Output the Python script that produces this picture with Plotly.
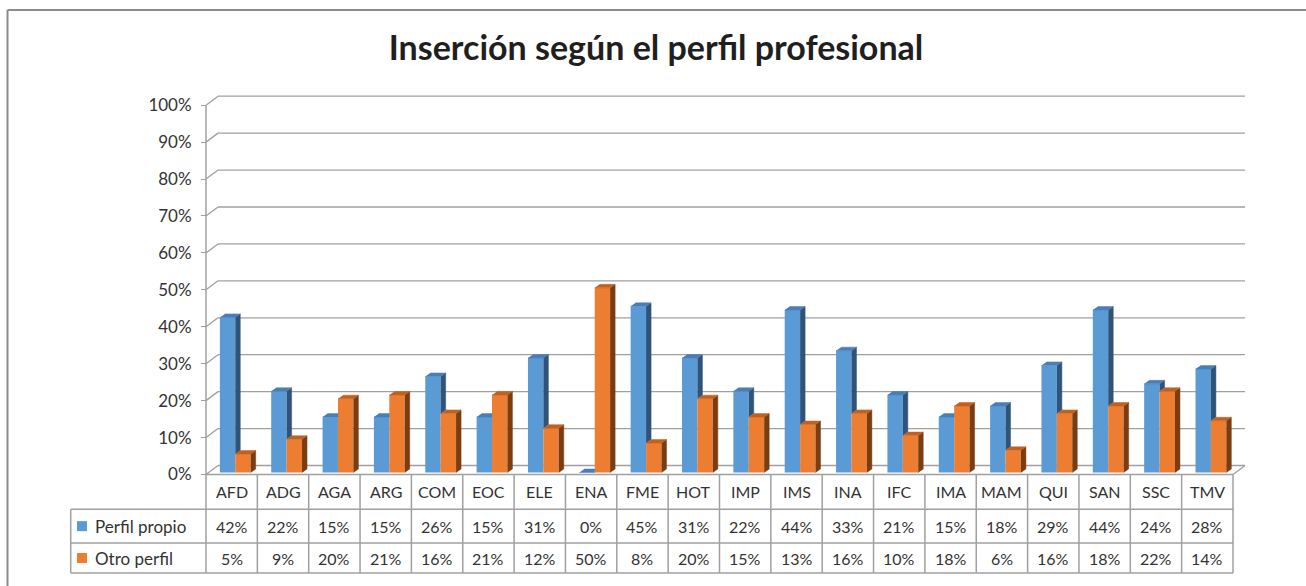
import plotly.graph_objects as go

# ---------------- data ----------------
categories = ["AFD", "ADG", "AGA", "ARG", "COM", "EOC", "ELE", "ENA", "FME", "HOT",
              "IMP", "IMS", "INA", "IFC", "IMA", "MAM", "QUI", "SAN", "SSC", "TMV"]
perfil_propio = [42, 22, 15, 15, 26, 15, 31, 0, 45, 31, 22, 44, 33, 21, 15, 18, 29, 44, 24, 28]
otro_perfil = [5, 9, 20, 21, 16, 21, 12, 50, 8, 20, 15, 13, 16, 10, 18, 6, 16, 18, 22, 14]
series_names = ["Perfil propio", "Otro perfil"]
y_ticks = [0, 10, 20, 30, 40, 50, 60, 70, 80, 90, 100]
title_text = "Inserción según el perfil profesional"

# ---------------- geometry (pixel <-> data) ----------------
W, H = 1306, 586
X0, SX = 206.0, 51.35      # pixel of x=0, pixels per category
Y0, SY = 474.5, 369.3      # pixel of y=0, pixels per 100%


def dxp(px):
    return (px - X0) / SX


def dyp(py):
    return (Y0 - py) / SY


N = len(categories)
FONT = "Lato"
TXT = "#333333"
GRID = "#A0A0A0"

BLUE, BLUE_SIDE, BLUE_TOP = "#5B9BD5", "#30537A", "#4A7EB6"
ORNG, ORNG_SIDE, ORNG_TOP = "#ED7D31", "#7A3D12", "#C0611F"

DXB, DYB = 5 / SX, 3.5 / SY      # bar depth
DXW, DYW = 12 / SX, 9 / SY       # wall depth
YB = 2 / SY                      # bar base (slightly behind front)
BW = 0.30
B_OFF, O_OFF = 0.27, 0.57        # left edges of bars inside the slot

fig = go.Figure()

bv = [v / 100 for v in perfil_propio]
ov = [v / 100 for v in otro_perfil]

# front faces
fig.add_trace(go.Bar(x=[i + B_OFF + BW / 2 for i in range(N)], y=bv, base=YB, width=BW,
                     marker=dict(color=BLUE, line=dict(width=0)), name=series_names[0],
                     showlegend=False))
fig.add_trace(go.Bar(x=[i + O_OFF + BW / 2 for i in range(N)], y=ov, base=YB, width=BW,
                     marker=dict(color=ORNG, line=dict(width=0)), name=series_names[1],
                     showlegend=False))

# 3D faces
bs_x, bs_y, bt_x, bt_y, os_x, os_y, ot_x, ot_y = ([] for _ in range(8))
for i in range(N):
    b, o = bv[i], ov[i]
    bL, bR = i + B_OFF, i + B_OFF + BW
    oL, oR = i + O_OFF, i + O_OFF + BW
    tb, to = YB + b, YB + o
    if b > o:
        bs_x += [bR, bR + DXB, bR + DXB, bR, None]
        bs_y += [to, to + DYB, tb + DYB, tb, None]
        bt_x += [bL, bR, bR + DXB, bL + DXB, None]
        bt_y += [tb, tb, tb + DYB, tb + DYB, None]
    else:
        bt_x += [bL, bR, bR, bL + DXB, None]
        bt_y += [tb, tb, tb + DYB, tb + DYB, None]
    os_x += [oR, oR + DXB, oR + DXB, oR, None]
    os_y += [YB, YB + DYB, to + DYB, to, None]
    ot_x += [oL, oR, oR + DXB, oL + DXB, None]
    ot_y += [to, to, to + DYB, to + DYB, None]

for xs, ys, col in [(bs_x, bs_y, BLUE_SIDE), (bt_x, bt_y, BLUE_TOP),
                    (os_x, os_y, ORNG_SIDE), (ot_x, ot_y, ORNG_TOP)]:
    fig.add_trace(go.Scatter(x=xs, y=ys, mode="lines", fill="toself", fillcolor=col,
                             line=dict(color=col, width=0.5), hoverinfo="skip",
                             showlegend=False))

shapes = []
# back-wall gridlines with diagonal connectors
for t in y_ticks:
    v = t / 100
    shapes.append(dict(type="line", xref="x", yref="y", x0=0, y0=v, x1=DXW, y1=v + DYW,
                       line=dict(color=GRID, width=1.3), layer="below"))
    shapes.append(dict(type="line", xref="x", yref="y", x0=DXW, y0=v + DYW, x1=N + DXW,
                       y1=v + DYW, line=dict(color=GRID, width=1.3), layer="below"))
shapes.append(dict(type="line", xref="x", yref="y", x0=N, y0=0, x1=N + DXW, y1=DYW,
                   line=dict(color=GRID, width=1.3), layer="below"))

# data table
r1, r2, rb = dyp(509.3), dyp(543.0), dyp(573.0)
xl = dxp(70.7)
shapes.append(dict(type="line", xref="x", yref="y", x0=0, y0=rb, x1=0, y1=1,
                   line=dict(color=GRID, width=1.5)))
for i in range(1, N + 1):
    shapes.append(dict(type="line", xref="x", yref="y", x0=i, y0=rb, x1=i, y1=0,
                       line=dict(color=GRID, width=1.5)))
shapes.append(dict(type="line", xref="x", yref="y", x0=0, y0=0, x1=N, y1=0,
                   line=dict(color=GRID, width=1.5)))
for yy in (r1, r2, rb):
    shapes.append(dict(type="line", xref="x", yref="y", x0=xl, y0=yy, x1=N, y1=yy,
                       line=dict(color=GRID, width=1.5)))
shapes.append(dict(type="line", xref="x", yref="y", x0=xl, y0=r1, x1=xl, y1=rb,
                   line=dict(color=GRID, width=1.5)))

# legend keys
for k, col in enumerate([BLUE, ORNG]):
    cy = (r1 + r2) / 2 if k == 0 else (r2 + rb) / 2
    shapes.append(dict(type="rect", xref="x", yref="y", x0=dxp(77), x1=dxp(87),
                       y0=cy - 5 / SY, y1=cy + 5 / SY, fillcolor=col, line=dict(width=0)))

# chart frame
shapes.append(dict(type="line", xref="paper", yref="paper", x0=7.5 / W, y0=0,
                   x1=7.5 / W, y1=1 - 10 / H, line=dict(color="#8C8C8C", width=2)))
shapes.append(dict(type="line", xref="paper", yref="paper", x0=7.5 / W, y0=1 - 10 / H,
                   x1=1, y1=1 - 10 / H, line=dict(color="#8C8C8C", width=2)))

annotations = []
yc_head, yc_r1, yc_r2 = (0 + r1) / 2, (r1 + r2) / 2, (r2 + rb) / 2
for i, c in enumerate(categories):
    annotations.append(dict(x=i + 0.5, y=yc_head, xref="x", yref="y", text=c, showarrow=False,
                            font=dict(family=FONT, size=16, color=TXT)))
    annotations.append(dict(x=i + 0.5, y=yc_r1, xref="x", yref="y",
                            text=f"{perfil_propio[i]}%", showarrow=False,
                            font=dict(family=FONT, size=16, color=TXT)))
    annotations.append(dict(x=i + 0.5, y=yc_r2, xref="x", yref="y",
                            text=f"{otro_perfil[i]}%", showarrow=False,
                            font=dict(family=FONT, size=16, color=TXT)))
for name, yy in zip(series_names, (yc_r1, yc_r2)):
    annotations.append(dict(x=dxp(93), y=yy, xref="x", yref="y", text=name, showarrow=False,
                            xanchor="left", font=dict(family=FONT, size=17, color=TXT)))

fig.update_layout(
    width=W, height=H,
    margin=dict(l=0, r=0, t=0, b=0),
    paper_bgcolor="white", plot_bgcolor="white",
    barmode="overlay",
    showlegend=False,
    title=dict(text=f"<b>{title_text}</b>", x=656 / W, y=1 - 48 / H, xanchor="center",
               yanchor="middle", font=dict(family=FONT, size=34, color="#1F1F1F")),
    xaxis=dict(range=[dxp(0), dxp(W)], visible=False, fixedrange=True),
    yaxis=dict(range=[dyp(H), dyp(0)], anchor="free", position=X0 / W,
               tickvals=[t / 100 for t in y_ticks], ticktext=[f"{t}%" for t in y_ticks],
               ticks="outside", ticklen=5, tickwidth=1.3, tickcolor=GRID,
               ticklabelstandoff=6,
               showgrid=False, zeroline=False, showline=False,
               tickfont=dict(family=FONT, size=17, color="#333333"), fixedrange=True),
    shapes=shapes,
    annotations=annotations,
)

fig.write_html("out.html", config={"displayModeBar": False},
               post_script="document.body.style.margin='0';document.body.style.overflow='hidden';")
